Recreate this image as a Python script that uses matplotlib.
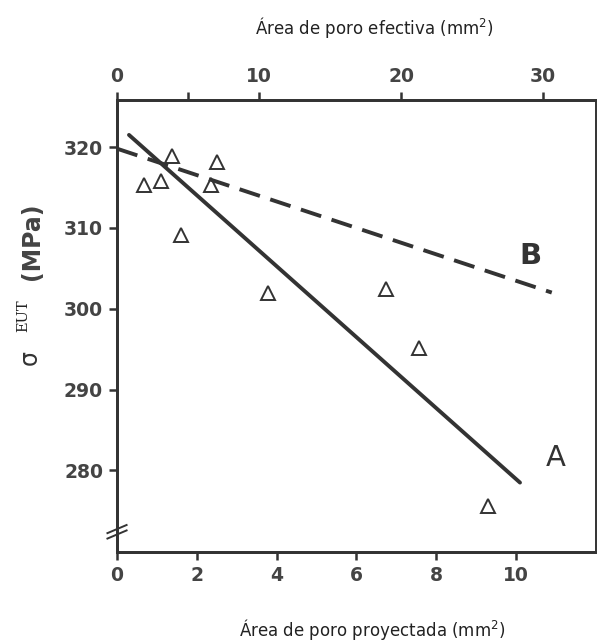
import numpy as np
import matplotlib
matplotlib.use('Agg')
import matplotlib.pyplot as plt

# puntos medidos: área proyectada (mm2) vs resistencia (MPa)
area_proy = [0.68, 1.1, 1.38, 1.6, 2.35, 2.5, 3.78, 6.75, 7.58, 9.3]
sigma_eut = [315.3, 315.8, 318.9, 309.1, 315.3, 318.1, 301.9, 302.5, 295.1, 275.6]

# recta A (frente al área proyectada)
recta_a_x = [0.3, 10.1]
recta_a_y = [321.5, 278.5]

# recta B (frente al área efectiva)
recta_b_x = [0.0, 30.6]
recta_b_y = [319.8, 302.0]

ink = '#333333'

fig = plt.figure(figsize=(5.97, 6.42), dpi=100)
ax = fig.add_axes([0.196, 0.140, 0.802, 0.704])

ax.plot(area_proy, sigma_eut, linestyle='none', marker='^', markersize=10,
        markerfacecolor='white', markeredgecolor=ink, markeredgewidth=1.4, zorder=3)
ax.plot(recta_a_x, recta_a_y, color=ink, lw=2.8, solid_capstyle='round')

ax.set_xlim(0, 12)
ax.set_ylim(269.9, 325.8)
ax.set_xticks([0, 2, 4, 6, 8, 10])
ax.set_yticks([280, 290, 300, 310, 320])

ax2 = ax.twiny()
ax2.plot(recta_b_x, recta_b_y, color=ink, lw=2.8, dashes=(5.5, 2.8))
ax2.set_xlim(0, 33.7)
ax2.set_xticks([0, 10, 20, 30])
ax2.set_xticks([5], minor=True)

for a in (ax, ax2):
    for s in a.spines.values():
        s.set_color(ink)
    a.spines['left'].set_linewidth(2.0)
    a.spines['bottom'].set_linewidth(2.0)
    a.spines['top'].set_linewidth(2.0)
    a.spines['right'].set_linewidth(1.2)

ax.tick_params(axis='both', direction='out', length=6, width=1.8, color=ink,
               labelcolor='#444444', labelsize=13.5, pad=4)
ax2.tick_params(axis='x', which='both', direction='out', length=6, width=1.8,
                color=ink, labelcolor='#444444', labelsize=13.5, pad=4)
for lbl in ax.get_xticklabels() + ax.get_yticklabels() + ax2.get_xticklabels():
    lbl.set_fontweight('bold')

# marcas de corte en el eje vertical
brk = dict(transform=ax.transAxes, color=ink, lw=1.4, clip_on=False)
ax.plot([-0.02, 0.02], [0.030, 0.048], **brk)
ax.plot([-0.02, 0.02], [0.042, 0.060], **brk)

ax.text(11.0, 281.5, 'A', fontsize=21, color=ink, ha='center', va='center')
ax.text(10.35, 306.5, 'B', fontsize=21, color=ink, ha='center', va='center',
        fontweight='bold')

# títulos de los ejes
fig.text(372 / 597, 1 - 630 / 642, 'Área de poro proyectada (mm$^2$)',
         fontsize=12, color='#222222', ha='center', va='center')
fig.text(374 / 597, 1 - 27 / 642, 'Área de poro efectiva (mm$^2$)',
         fontsize=12, color='#222222', ha='center', va='center')

fig.text(30 / 597, 1 - 358 / 642, 'σ', fontsize=17, color=ink, rotation=90,
         ha='center', va='center')
fig.text(23 / 597, 1 - 316 / 642, 'EUT', fontsize=10.5, color='#222222',
         rotation=90, ha='center', va='center', family='DejaVu Serif')
fig.text(32 / 597, 1 - 241 / 642, '(MPa)', fontsize=17, color='#444444',
         rotation=90, ha='center', va='center', fontweight='bold')

fig.savefig('out.png', dpi=100)
